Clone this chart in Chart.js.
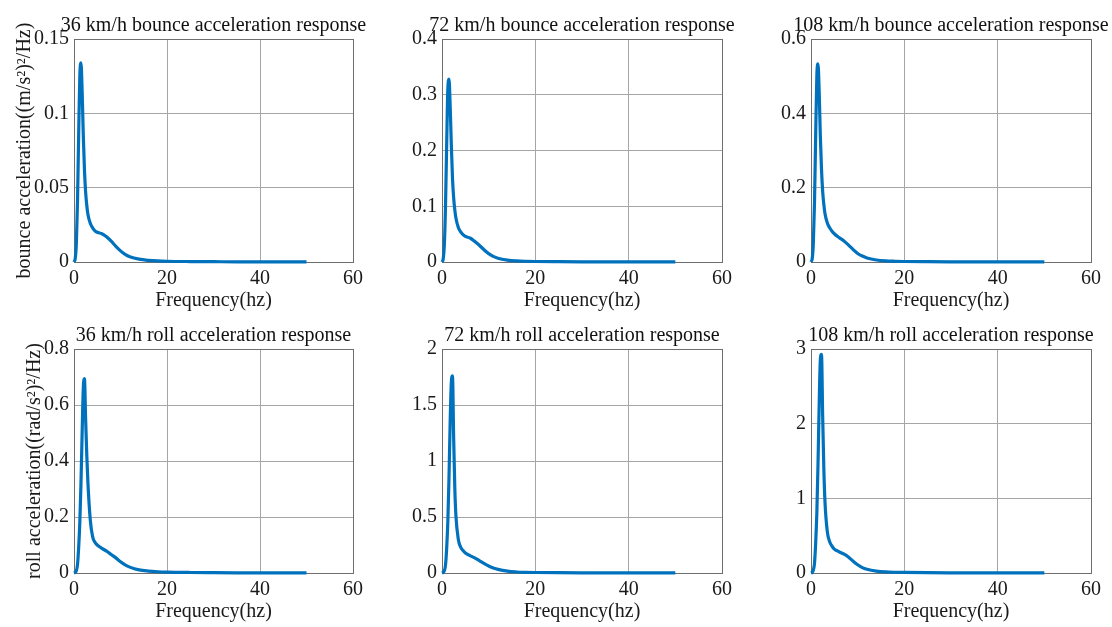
<!DOCTYPE html>
<html>
<head>
<meta charset="utf-8">
<script src="https://cdn.jsdelivr.net/npm/chart.js@4"></script>
<style>
  html, body { margin: 0; padding: 0; background: #fff; overflow: hidden; }
  #wrap { position: relative; width: 1112px; height: 627px; }
  canvas { position: absolute; }
</style>
</head>
<body>
<div id="wrap"></div>
<script>
// frequency points (Hz), shared by every curve
const freq = [0, 0.25, 0.5, 0.75, 1, 1.25, 1.5, 1.75, 2, 2.25, 2.5, 2.75, 3, 3.5, 4, 4.5, 5, 6, 7, 8, 9, 10, 11, 12, 14, 16, 18, 20, 25, 30, 35, 40, 45, 50];

// bounce acceleration PSD ((m/s^2)^2/Hz)
const bounce36 = [0, 0.002, 0.012, 0.040, 0.085, 0.125, 0.134, 0.115, 0.085, 0.062, 0.047, 0.038, 0.032, 0.026, 0.023, 0.021, 0.020, 0.019, 0.017, 0.014, 0.0105, 0.0075, 0.0052, 0.0036, 0.0019, 0.0011, 0.0007, 0.0005, 0.0003, 0.0002, 0.0001, 0.0001, 0.0001, 0.0001];
const bounce72 = [0, 0.005, 0.03, 0.10, 0.21, 0.31, 0.328, 0.28, 0.21, 0.15, 0.115, 0.093, 0.078, 0.062, 0.054, 0.049, 0.046, 0.043, 0.037, 0.030, 0.022, 0.015, 0.010, 0.0068, 0.0035, 0.002, 0.0013, 0.0009, 0.0005, 0.0003, 0.0002, 0.0002, 0.0001, 0.0001];
const bounce108 = [0, 0.008, 0.05, 0.16, 0.34, 0.50, 0.533, 0.46, 0.34, 0.25, 0.19, 0.155, 0.13, 0.105, 0.092, 0.083, 0.076, 0.066, 0.057, 0.046, 0.034, 0.023, 0.016, 0.011, 0.0055, 0.003, 0.002, 0.0014, 0.0008, 0.0005, 0.0003, 0.0003, 0.0002, 0.0002];

// roll acceleration PSD ((rad/s^2)^2/Hz)
const roll36 = [0, 0.002, 0.008, 0.03, 0.09, 0.18, 0.32, 0.50, 0.66, 0.694, 0.55, 0.42, 0.32, 0.19, 0.13, 0.11, 0.10, 0.088, 0.078, 0.066, 0.054, 0.040, 0.029, 0.021, 0.011, 0.0068, 0.0045, 0.0032, 0.0018, 0.0012, 0.0008, 0.0006, 0.0005, 0.0004];
const roll72 = [0, 0.005, 0.02, 0.07, 0.22, 0.46, 0.85, 1.35, 1.70, 1.76, 1.20, 0.75, 0.50, 0.30, 0.23, 0.20, 0.178, 0.155, 0.135, 0.11, 0.085, 0.062, 0.045, 0.032, 0.016, 0.009, 0.006, 0.0045, 0.0025, 0.0016, 0.0011, 0.0009, 0.0007, 0.0006];
const roll108 = [0, 0.008, 0.04, 0.13, 0.40, 0.80, 1.45, 2.25, 2.85, 2.93, 2.10, 1.40, 0.95, 0.55, 0.42, 0.36, 0.32, 0.285, 0.255, 0.215, 0.16, 0.11, 0.072, 0.05, 0.026, 0.015, 0.010, 0.0075, 0.0042, 0.0027, 0.0018, 0.0014, 0.0012, 0.001];

const titles = [
  '36 km/h bounce acceleration response', '72 km/h bounce acceleration response', '108 km/h bounce acceleration response',
  '36 km/h roll acceleration response', '72 km/h roll acceleration response', '108 km/h roll acceleration response'
];
const series = [bounce36, bounce72, bounce108, roll36, roll72, roll108];
const yMax = [0.15, 0.4, 0.6, 0.8, 2, 3];
const yStep = [0.05, 0.1, 0.2, 0.2, 0.5, 1];
const xTicks = [0, 20, 40, 60];
const yLabels = ['bounce acceleration((m/s²)²/Hz)', 'roll acceleration((rad/s²)²/Hz)'];
const xLabel = 'Frequency(hz)';

const FONT = '"Liberation Serif", "Times New Roman", serif';
const colLeft = [74, 442, 811];
const colWidth = [279, 280, 280];
const rowTop = [39, 349];
const rowHeight = [223, 224];
const axisW = [74, 50, 50];
const rightPad = [25, 25, 21];
const TOP = 39, BOTTOM = 50;

// plain matlab-like numbers: 0.1 not 0.10, 2 not 2.0
const fmt = v => String(parseFloat(Number(v).toFixed(6)));

const boxPlugin = {
  id: 'box',
  beforeDatasetsDraw(chart) {
    const a = chart.chartArea, ctx = chart.ctx;
    ctx.save();
    ctx.strokeStyle = '#6e6e6e';
    ctx.lineWidth = 1;
    ctx.strokeRect(Math.round(a.left) + 0.5, Math.round(a.top) + 0.5, Math.round(a.right - a.left), Math.round(a.bottom - a.top));
    ctx.restore();
  },
  afterDraw(chart, args, opts) {
    const a = chart.chartArea, ctx = chart.ctx;
    ctx.save();
    ctx.font = '20px ' + FONT;
    ctx.fillStyle = '#111';
    ctx.textAlign = 'center';
    ctx.textBaseline = 'alphabetic';
    ctx.fillText(opts.text, (a.left + a.right) / 2, a.top - 8);
    ctx.restore();
  }
};

const wrap = document.getElementById('wrap');

series.forEach((vals, i) => {
  const row = Math.floor(i / 3), col = i % 3;
  const w = axisW[col] + colWidth[col] + rightPad[col];
  const h = TOP + rowHeight[row] + BOTTOM;
  const canvas = document.createElement('canvas');
  canvas.width = w;
  canvas.height = h;
  canvas.style.left = (colLeft[col] - axisW[col]) + 'px';
  canvas.style.top = (rowTop[row] - TOP) + 'px';
  canvas.style.width = w + 'px';
  canvas.style.height = h + 'px';
  wrap.appendChild(canvas);

  new Chart(canvas.getContext('2d'), {
    type: 'line',
    data: {
      datasets: [{
        data: freq.map((f, k) => ({ x: f, y: vals[k] })),
        borderColor: '#0072BD',
        borderWidth: 3.2,
        pointRadius: 0,
        cubicInterpolationMode: 'monotone',
        clip: false
      }]
    },
    plugins: [boxPlugin],
    options: {
      responsive: false,
      animation: false,
      events: [],
      layout: { padding: { top: TOP, right: rightPad[col], left: 0, bottom: 0 } },
      plugins: {
        legend: { display: false },
        tooltip: { enabled: false },
        box: { text: titles[i] }
      },
      scales: {
        x: {
          type: 'linear',
          min: 0,
          max: 60,
          afterFit: s => { s.height = BOTTOM; },
          afterBuildTicks: s => { s.ticks = xTicks.map(v => ({ value: v })); },
          grid: { color: '#a6a6a6', drawTicks: false },
          border: { display: false },
          ticks: { padding: 5, color: '#1a1a1a', font: { family: FONT, size: 20 }, maxRotation: 0, callback: fmt },
          title: { display: true, text: xLabel, color: '#1a1a1a', font: { family: FONT, size: 20 }, padding: { top: 0, bottom: -1 } }
        },
        y: {
          min: 0,
          max: yMax[i],
          afterFit: s => { s.width = axisW[col]; },
          grid: { color: '#a6a6a6', drawTicks: false },
          border: { display: false },
          ticks: { stepSize: yStep[i], padding: 5, color: '#1a1a1a', font: { family: FONT, size: 20 }, callback: fmt },
          title: {
            display: col === 0,
            text: yLabels[row],
            color: '#1a1a1a',
            font: { family: FONT, size: 20 },
            padding: { top: row === 0 ? 13 : 23, bottom: 0 }
          }
        }
      }
    }
  });
});
</script>
</body>
</html>
